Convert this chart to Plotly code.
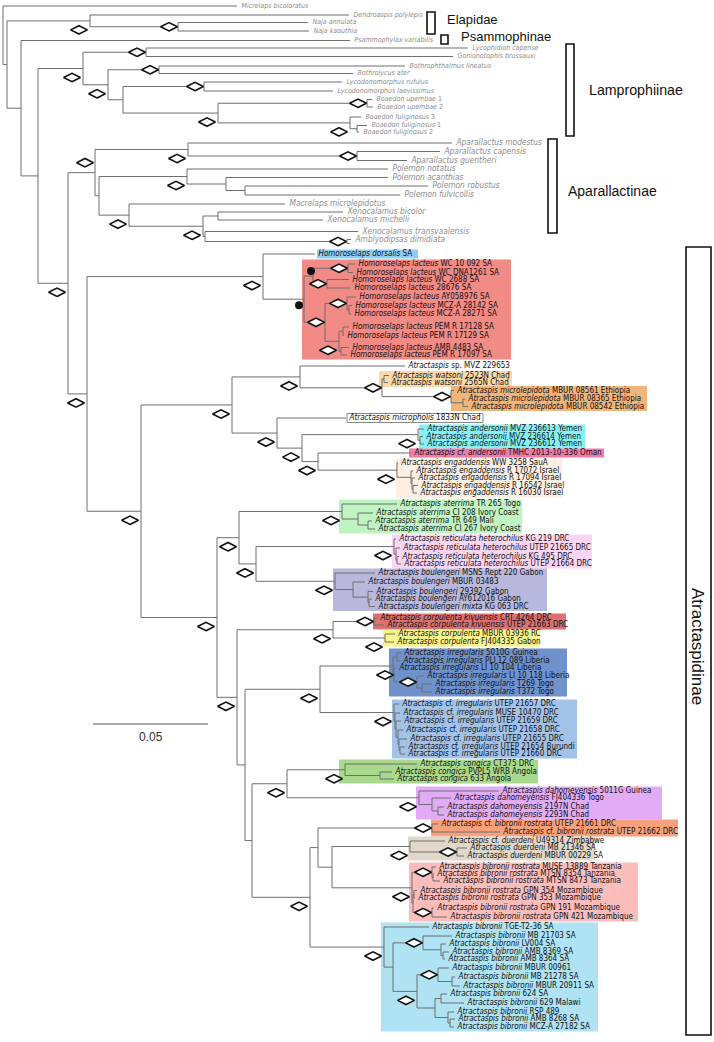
import plotly.graph_objects as go

# tree units: 2300 units = 1 substitution / site
UNITS_PER_SUB = 2300
SCALE_BAR = 0.05

TIP_LABELS = [
    "<i>Micrelaps bicoloratus</i>", "<i>Dendroaspis polylepis</i>", "<i>Naja annulata</i>",
    "<i>Naja kaouthia</i>", "<i>Psammophylax variabilis</i>", "<i>Lycophidion capense</i>",
    "<i>Gonionotophis brussauxi</i>", "<i>Bothrophthalmus lineatus</i>", "<i>Bothrolycus ater</i>",
    "<i>Lycodonomorphus rufulus</i>", "<i>Lycodonomorphus laevissimus</i>", "<i>Boaedon upembae</i> 1",
    "<i>Boaedon upembae</i> 2", "<i>Boaedon fuliginosus</i> 3", "<i>Boaedon fuliginosus</i> 1",
    "<i>Boaedon fuliginosus</i> 2",
    "<i>Aparallactus modestus</i>", "<i>Aparallactus capensis</i>", "<i>Aparallactus guentheri</i>",
    "<i>Polemon notatus</i>", "<i>Polemon acanthias</i>", "<i>Polemon robustus</i>",
    "<i>Polemon fulvicollis</i>", "<i>Macrelaps microlepidotus</i>", "<i>Xenocalamus bicolor</i>",
    "<i>Xenocalamus michelli</i>", "<i>Xenocalamus transvaalensis</i>", "<i>Amblyodipsas dimidiata</i>",
    "<i>Homoroselaps dorsalis</i> SA",
    "<i>Homoroselaps lacteus</i> WC 10 092 SA", "<i>Homoroselaps lacteus</i> WC DNA1261 SA",
    "<i>Homoroselaps lacteus</i> WC 2688 SA", "<i>Homoroselaps lacteus</i> 28676 SA",
    "<i>Homoroselaps lacteus</i> AY058976 SA", "<i>Homoroselaps lacteus</i> MCZ-A 28142 SA",
    "<i>Homoroselaps lacteus</i> MCZ-A 28271 SA", "<i>Homoroselaps lacteus</i> PEM R 17128 SA",
    "<i>Homoroselaps lacteus</i> PEM R 17129 SA", "<i>Homoroselaps lacteus</i> AMB 4483 SA",
    "<i>Homoroselaps lacteus</i> PEM R 17097 SA",
    "<i>Atractaspis</i> sp. MVZ 229653", "<i>Atractaspis watsoni</i> 2523N Chad",
    "<i>Atractaspis watsoni</i> 2565N Chad", "<i>Atractaspis microlepidota</i> MBUR 08561 Ethiopia",
    "<i>Atractaspis microlepidota</i> MBUR 08365 Ethiopia", "<i>Atractaspis microlepidota</i> MBUR 08542 Ethiopia",
    "<i>Atractaspis micropholis</i> 1833N Chad", "<i>Atractaspis andersonii</i> MVZ 236613 Yemen",
    "<i>Atractaspis andersonii</i> MVZ 236614 Yemen", "<i>Atractaspis andersonii</i> MVZ 236612 Yemen",
    "<i>Atractaspis cf. andersonii</i> TMHC 2013-10-336 Oman", "<i>Atractaspis engaddensis</i> WW 3258 SauA",
    "<i>Atractaspis engaddensis</i> R 17072 Israel", "<i>Atractaspis engaddensis</i> R 17094 Israel",
    "<i>Atractaspis engaddensis</i> R 16542 Israel", "<i>Atractaspis engaddensis</i> R 16030 Israel",
    "<i>Atractaspis aterrima</i> TR 265 Togo", "<i>Atractaspis aterrima</i> CI 208 Ivory Coast",
    "<i>Atractaspis aterrima</i> TR 649 Mali", "<i>Atractaspis aterrima</i> CI 267 Ivory Coast",
    "<i>Atractaspis reticulata heterochilus</i> KG 219 DRC",
    "<i>Atractaspis reticulata heterochilus</i> UTEP 21665 DRC",
    "<i>Atractaspis reticulata heterochilus</i> KG 495 DRC",
    "<i>Atractaspis reticulata heterochilus</i> UTEP 21664 DRC",
    "<i>Atractaspis boulengeri</i> MSNS Rept 220 Gabon", "<i>Atractaspis boulengeri</i> MBUR 03483",
    "<i>Atractaspis boulengeri</i> 29392 Gabon", "<i>Atractaspis boulengeri</i> AY612016 Gabon",
    "<i>Atractaspis boulengeri mixta</i> KG 063 DRC",
    "<i>Atractaspis corpulenta kivuensis</i> CRT 4264 DRC",
    "<i>Atractaspis corpulenta kivuensis</i> UTEP 21663 DRC",
    "<i>Atractaspis corpulenta</i> MBUR 03936 RC", "<i>Atractaspis corpulenta</i> FJ404335 Gabon",
    "<i>Atractaspis irregularis</i> 5010G Guinea", "<i>Atractaspis irregularis</i> PLI 12 089 Liberia",
    "<i>Atractaspis irregularis</i> LI 10 104 Liberia", "<i>Atractaspis irregularis</i> LI 10 118 Liberia",
    "<i>Atractaspis irregularis</i> T269 Togo", "<i>Atractaspis irregularis</i> T372 Togo",
    "<i>Atractaspis</i> cf. <i>irregularis</i> UTEP 21657 DRC",
    "<i>Atractaspis</i> cf. <i>irregularis</i> MUSE 10470 DRC",
    "<i>Atractaspis</i> cf. <i>irregularis</i> UTEP 21659 DRC",
    "<i>Atractaspis</i> cf. <i>irregularis</i> UTEP 21658 DRC",
    "<i>Atractaspis</i> cf. <i>irregularis</i> UTEP 21655 DRC",
    "<i>Atractaspis</i> cf. <i>irregularis</i> UTEP 21654 Burundi",
    "<i>Atractaspis</i> cf. <i>irregularis</i> UTEP 21660 DRC",
    "<i>Atractaspis congica</i> CT375 DRC", "<i>Atractaspis congica</i> PVPL5 WRB Angola",
    "<i>Atractaspis congica</i> 633 Angola",
    "<i>Atractaspis dahomeyensis</i> 5011G Guinea", "<i>Atractaspis dahomeyensis</i> FJ404336 Togo",
    "<i>Atractaspis dahomeyensis</i> 2197N Chad", "<i>Atractaspis dahomeyensis</i> 2293N Chad",
    "<i>Atractaspis</i> cf. <i>bibronii rostrata</i> UTEP 21661 DRC",
    "<i>Atractaspis</i> cf. <i>bibronii rostrata</i> UTEP 21662 DRC",
    "<i>Atractaspis</i> cf. <i>duerdeni</i> U49314 Zimbabwe",
    "<i>Atractaspis duerdeni</i> MB 21346 SA", "<i>Atractaspis duerdeni</i> MBUR 00229 SA",
    "<i>Atractaspis bibronii rostrata</i> MUSE 13889 Tanzania",
    "<i>Atractaspis bibronii rostrata</i> MTSN 8354 Tanzania",
    "<i>Atractaspis bibronii rostrata</i> MTSN 8473 Tanzania",
    "<i>Atractaspis bibronii rostrata</i> GPN 354 Mozambique",
    "<i>Atractaspis bibronii rostrata</i> GPN 353 Mozambique",
    "<i>Atractaspis bibronii rostrata</i> GPN 191 Mozambique",
    "<i>Atractaspis bibronii rostrata</i> GPN 421 Mozambique",
    "<i>Atractaspis bibronii</i> TGE-T2-36 SA", "<i>Atractaspis bibronii</i> MB 21703 SA",
    "<i>Atractaspis bibronii</i> LV004 SA", "<i>Atractaspis bibronii</i> AMB 8369 SA",
    "<i>Atractaspis bibronii</i> AMB 8364 SA", "<i>Atractaspis bibronii</i> MBUR 00961",
    "<i>Atractaspis bibronii</i> MB 21278 SA", "<i>Atractaspis bibronii</i> MBUR 20911 SA",
    "<i>Atractaspis bibronii</i> 624 SA", "<i>Atractaspis bibronii</i> 629 Malawi",
    "<i>Atractaspis bibronii</i> RSP 489", "<i>Atractaspis bibronii</i> AMB 8268 SA",
    "<i>Atractaspis bibronii</i> MCZ-A 27182 SA",
    "",
]

TIP_DEPTH = [
    237, 349, 308, 309, 350, 468, 453, 405, 353, 342, 333, 372, 373, 361, 367, 359,
    452, 440, 407, 388, 388, 428, 400, 285, 343, 323, 358, 351,
    315, 355, 353, 349, 351, 356, 352, 351, 349, 344, 349, 347,
    405, 389, 388, 454, 465, 468, 346, 424, 423, 424, 411, 398, 413, 415, 418, 417,
    397, 373, 372, 375, 396, 400, 399, 401, 375, 365, 373, 372, 375,
    377, 384, 395, 394, 401, 400, 396, 424, 432, 432,
    399, 400, 401, 403, 407, 405, 405, 417, 392, 394, 499, 451, 444, 444,
    438, 500, 445, 467, 464, 436, 434, 440, 417, 415, 434, 447,
    429, 452, 446, 449, 445, 449, 455, 460, 447, 464, 454, 455, 454,
    350,
]

TIP_ROW = [
    6, 15, 22.5, 31, 40.5, 48, 56.5, 66, 73.5, 82, 91, 99.5, 107, 117, 125.5, 132,
    143, 151.5, 160.5, 169, 177.5, 186, 195, 204, 212, 220, 231.5, 239.5,
    254, 264, 272.5, 279.5, 288, 297, 305.5, 314, 327, 335.5, 347.5, 355,
    366, 375.5, 382.5, 390.5, 399, 406.5, 418, 429, 436.5, 444, 453, 463, 471, 478, 485.5, 493,
    504, 513, 521, 529, 539, 548, 556.5, 564, 573, 582, 591.5, 599, 606.5,
    618, 625, 634, 642, 653, 661, 668, 676, 684, 692,
    704, 713, 721, 730, 739, 747, 754, 764, 772, 779, 791, 798, 807, 815,
    824, 832, 841, 848, 856, 867, 874, 881, 890.5, 898, 908, 917,
    927, 936, 944, 952, 959, 968, 977, 986, 994, 1003, 1012, 1019, 1027,
    243.5,
]

# label style per tip range: first, stop, font size, colour, gap after branch tip
LABEL_GROUPS = [(0, 16, 7.0, "#8c8c8c", 4.5), (16, 28, 8.3, "#8c8c8c", 4.5),
                (28, 119, 8.0, "#111111", 3.5)]
LABEL_FONT = "DejaVu Sans Condensed, Liberation Sans Narrow, Arial Narrow, sans-serif"

# topology: [node depth, support mark, children...]; ints are tip indices
# marks: d = diamond, e = diamond beside node, u = diamond above, b/B = black dot
ELAPIDAE = [90, "d", 1, [178, "e", 2, 3]]
BOAEDON = [218, "d", [367, "e", 11, 12], [350, "d", 13, [357, "", 14, 15]]]
LAMPRO = [83, "d", [146, "e", 5, 6],
          [108, "d", [159, "e", 7, 8], [123, "", [204, "e", 9, 10], BOAEDON]]]

APARALLACTUS = [188, "d", 16, [357, "e", 17, 18]]
POLEMON = [187, "d", 19, [226, "", 20, [245, "", 21, 22]]]
XENO = [203, "d", [218, "", 24, 25], [205, "", 26, [347, "e", 27, 118]]]
APAR = [95, "u", APARALLACTUS, [99, "", POLEMON, [129, "d", 23, XENO]]]

LAC1 = [313, "B", [348, "e", 29, 30], [327, "e", 31, 32]]
LAC2 = [325, "e", [347, "e", 33, [349, "", 34, 35]],
        [339, "d", [343, "", 36, 37], [341, "", 38, 39]]]
HOMO = [263, "d", 28, [304, "b", LAC1, LAC2]]

ENGAD = [397, "d", 51, [411, "", 52, [412, "", 53, [413, "", 54, 55]]]]
E1 = [300, "d", 40, [382, "e", [384, "", 41, 42], [451, "e", 43, [463, "", 44, 45]]]]
E2 = [277, "d", 46, [302, "d", [418, "d", 47, [420, "", 48, 49]], [318, "d", 50, ENGAD]]]
CLADE_E = [232, "d", E1, E2]

ATERRIMA = [342, "d", 56, [358, "", 57, [368, "", 58, 59]]]
RETIC = [394, "d", 60, [396, "", 61, [397, "", 62, 63]]]
BOUL = [335, "d", 64, [353, "", 65, [368, "", 66, [369, "", 67, 68]]]]
CLADE_G = [239, "d", ATERRIMA, [256, "d", RETIC, BOUL]]

CORP = [333, "d", [374, "e", 69, 70], [385, "d", 71, 72]]
IRR = [393, "", [397, "", 73, 74], [394, "e", 75, [417, "e", 76, [422, "", 77, 78]]]]
CFIRR = [394, "d", 79, [395, "", 80, [396, "", 81, [398, "", 82, [399, "", 83, [400, "", 84, 85]]]]]]
CONGICA = [345, "d", 86, [380, "", 87, 88]]
DAHOM = [419, "d", 89, [432, "", 90, [438, "", 91, 92]]]
DUERD = [410, "d", 95, [457, "e", 96, 97]]
ROST = [412, "d", [432, "e", 98, [433, "", 99, 100]],
        [413, "", [414, "", 101, 102], [432, "e", 103, 104]]]
BIB_A = [423, "e", 106, [441, "", 107, [443, "", 108, 109]]]
BIB_P = [438, "e", 110, [452, "", 111, 112]]
BIB_Q = [435, "", [441, "", 113, 114], [448, "", 115, [450, "", 116, 117]]]
BIB = [384, "d", 105, [393, "", BIB_A, [417, "d", BIB_P, BIB_Q]]]
CLADE_L = [310, "d", [318, "", [432, "e", 93, 94], [332, "", DUERD, ROST]], BIB]
CLADE_J = [252, "", [287, "d", CONGICA, DAHOM], CLADE_L]
CLADE_H = [237, "d", CORP, [245, "", [320, "d", IRR, CFIRR], CLADE_J]]
ATRA = [141, "d", CLADE_E, [217, "d", CLADE_G, CLADE_H]]

TREE = [3, "", 0,
        [7, "", ELAPIDAE,
         [21, "", 4,
          [38, "", LAMPRO,
           [68, "d", APAR,
            [87, "d", HOMO, ATRA]]]]]]

# highlighted clades: first tip, last tip, left, right, colour
BOX_TIPS = [(28, 28), (29, 39), (41, 42), (43, 45), (46, 46), (47, 49), (50, 50), (51, 55),
            (56, 59), (60, 63), (64, 68), (69, 70), (71, 72), (73, 78), (79, 85), (86, 88),
            (89, 92), (93, 94), (95, 97), (98, 104), (105, 117)]
BOX_X = [(317, 418), (302, 511), (379, 512), (451, 647), (347, 483), (419, 585), (409, 604),
         (396, 562), (339, 522), (392, 592), (333, 547), (373, 566), (383, 540), (389, 567),
         (392, 577), (339, 538), (416, 662), (431, 678), (408, 595), (409, 638), (381, 598)]
BOX_COLORS = ["#8fcdf2", "#f28a85", "#fbd9ab", "#f1b479", "#ffffff", "#85f1f6", "#f27aa6",
              "#fdefe4", "#bff3c2", "#fbd6f4", "#b8b8dc", "#dd7070", "#f7f48c", "#6f92cc",
              "#a3c2e7", "#a9d98c", "#e2abf6", "#f7a17c", "#e1d8cc", "#fbbcbc", "#afe2f2"]

CLADES = ["Elapidae", "Psammophinae", "Lamprophiinae", "Aparallactinae", "Atractaspidinae"]
CLADE_Y = [(12, 34), (35, 44), (44, 136), (139, 233), (247, 1035)]
CLADE_X = [(427, 435), (441, 448), (566, 574), (548, 557), (686, 711)]
CLADE_LABEL_XY = [(445, 19), (459, 36), (587, 90), (566, 191), (698, 646)]
CLADE_FONT = [13, 13, 14.2, 14, 17]

seg_x, seg_y, marks = [], [], []


def place(node):
    if isinstance(node, int):
        return TIP_DEPTH[node], TIP_ROW[node]
    depth, mark, *kids = node
    pts = [place(k) for k in kids]
    ys = [p[1] for p in pts]
    y = (ys[0] + ys[-1]) / 2
    seg_x.extend([depth, depth, None])
    seg_y.extend([ys[0], ys[-1], None])
    for cx, cy in pts:
        seg_x.extend([depth, cx, None])
        seg_y.extend([cy, cy, None])
    if mark:
        marks.append((mark, depth, y))
    return depth, y


place(TREE)

fig = go.Figure()

for (a, b), (x0, x1), col in zip(BOX_TIPS, BOX_X, BOX_COLORS):
    fig.add_shape(type="rect", x0=x0, x1=x1, y0=TIP_ROW[a] - 4.5, y1=TIP_ROW[b] + 4.5,
                  fillcolor=col, line=dict(width=1 if col == "#ffffff" else 0, color="#888888"),
                  layer="below")

fig.add_trace(go.Scatter(x=seg_x, y=seg_y, mode="lines",
                         line=dict(color="#6f6f6f", width=1), hoverinfo="skip"))

OFFSETS = {"d": (-11, 9), "e": (-9, 0), "u": (-10, -10), "b": (-5, 6), "B": (-2, -5)}
dia = [m for m in marks if m[0] in "deu"]
dot = [m for m in marks if m[0] in "bB"]
fig.add_trace(go.Scatter(
    x=[d + OFFSETS[k][0] for k, d, y in dia], y=[y + OFFSETS[k][1] for k, d, y in dia],
    mode="markers", hoverinfo="skip",
    marker=dict(symbol="diamond-wide", size=12, color="white", line=dict(color="#111111", width=1.6))))
fig.add_trace(go.Scatter(
    x=[d + OFFSETS[k][0] for k, d, y in dot], y=[y + OFFSETS[k][1] for k, d, y in dot],
    mode="markers", hoverinfo="skip", marker=dict(symbol="circle", size=8, color="#111111")))

for a, b, size, col, gap in LABEL_GROUPS:
    idx = [i for i in range(a, b) if TIP_LABELS[i]]
    fig.add_trace(go.Scatter(
        x=[TIP_DEPTH[i] + gap for i in idx], y=[TIP_ROW[i] for i in idx],
        text=[TIP_LABELS[i] for i in idx], mode="text", textposition="middle right",
        textfont=dict(family=LABEL_FONT, size=size, color=col), hoverinfo="skip"))

for name, (y0, y1), (x0, x1), (lx, ly), fs in zip(CLADES, CLADE_Y, CLADE_X, CLADE_LABEL_XY, CLADE_FONT):
    fig.add_shape(type="rect", x0=x0, x1=x1, y0=y0, y1=y1, line=dict(color="#111111", width=1.6))
    font = dict(family="Liberation Sans, Arial, sans-serif", size=fs, color="#111111")
    if name == "Atractaspidinae":
        fig.add_annotation(x=lx, y=ly, text=name, showarrow=False, textangle=90, font=font)
    else:
        fig.add_annotation(x=lx, y=ly, text=name, showarrow=False, xanchor="left", font=font)

# scale bar
bar_len = SCALE_BAR * UNITS_PER_SUB
fig.add_shape(type="line", x0=93, x1=93 + bar_len, y0=724, y1=724, line=dict(color="#555555", width=1))
fig.add_annotation(x=93 + bar_len / 2, y=737, text=f"{SCALE_BAR}", showarrow=False,
                   font=dict(family="Liberation Sans, Arial, sans-serif", size=12, color="#333333"))

fig.update_layout(width=714, height=1042, margin=dict(l=0, r=0, t=0, b=0),
                  plot_bgcolor="white", paper_bgcolor="white", showlegend=False,
                  xaxis=dict(range=[0, 714], visible=False, fixedrange=True),
                  yaxis=dict(range=[1042, 0], visible=False, fixedrange=True))

# drop the browser's default page margin so the figure sits at the window origin
fig.write_html("out.html", config={"displayModeBar": False},
               post_script="document.body.style.margin='0';")
